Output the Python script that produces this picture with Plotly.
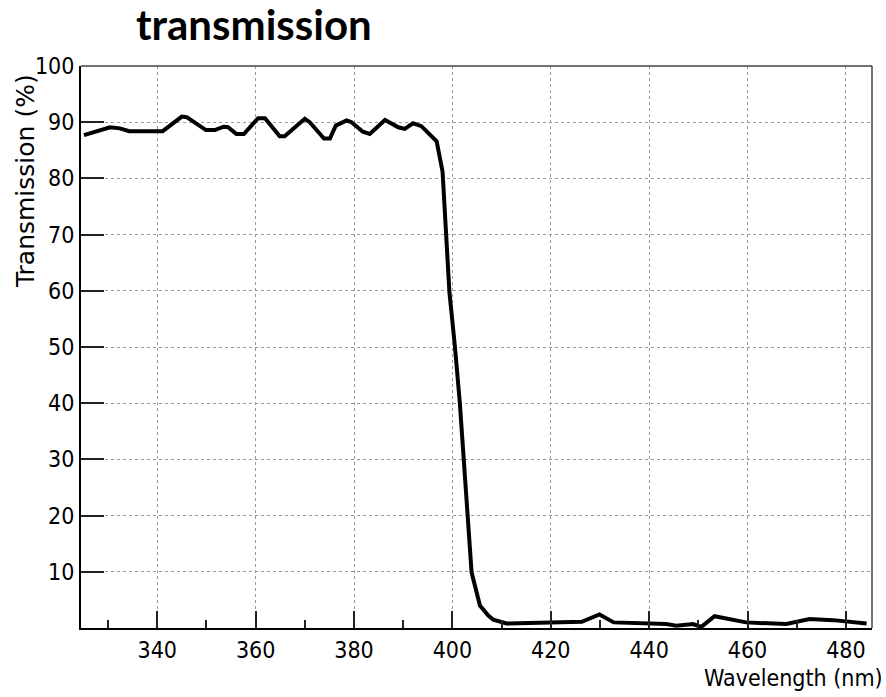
import plotly.graph_objects as go

# Filter transmission spectrum: wavelength (nm) vs transmission (%)
wavelength_nm = [
    325.1, 330.4, 332.4, 334.3, 341.1, 345.0, 346.0, 349.9, 351.7, 353.5,
    354.4, 356.1, 357.6, 360.5, 361.9, 364.9, 365.9, 370.0, 371.0, 373.9,
    375.1, 376.3, 378.5, 379.5, 381.8, 383.2, 386.3, 389.0, 390.3, 392.0,
    393.7, 396.8, 398.0, 398.7, 399.4, 400.5, 401.5, 402.3, 403.0, 403.9,
    405.6, 407.3, 408.3, 411.0, 426.3, 429.9, 432.8, 443.5, 445.5, 448.9,
    450.6, 453.3, 459.7, 467.9, 472.6, 477.4, 484.2,
]
transmission_pct = [
    87.7, 89.1, 88.9, 88.4, 88.4, 91.0, 90.9, 88.6, 88.6, 89.2,
    89.1, 87.9, 87.9, 90.7, 90.7, 87.5, 87.5, 90.6, 90.0, 87.1,
    87.1, 89.4, 90.3, 90.0, 88.3, 87.9, 90.4, 89.1, 88.8, 89.8,
    89.3, 86.6, 81.2, 69.8, 59.7, 50.2, 40.2, 30.1, 20.0, 9.9,
    4.0, 2.2, 1.5, 0.8, 1.1, 2.4, 1.0, 0.7, 0.4, 0.7,
    0.2, 2.1, 1.0, 0.7, 1.6, 1.4, 0.8,
]

x_ticks = [340, 360, 380, 400, 420, 440, 460, 480]
x_minor = [330, 350, 370, 390, 410, 430, 450, 470]
y_ticks = [10, 20, 30, 40, 50, 60, 70, 80, 90, 100]

narrow = "Liberation Sans Narrow, Arial Narrow, DejaVu Sans Condensed, sans-serif"

fig = go.Figure()
fig.add_trace(go.Scatter(
    x=wavelength_nm, y=transmission_pct, mode="lines",
    line=dict(color="black", width=4), showlegend=False,
))

fig.update_layout(
    width=886, height=697,
    margin=dict(l=81, r=14, t=66, b=69),
    paper_bgcolor="white", plot_bgcolor="white",
    xaxis=dict(
        range=[324.5, 485.3],
        tickmode="array", tickvals=x_ticks, ticktext=[str(v) for v in x_ticks],
        ticks="inside", ticklen=17, tickwidth=1.5, tickcolor="#222",
        minor=dict(tickmode="array", tickvals=x_minor,
                   ticks="inside", ticklen=8, tickwidth=1.5, tickcolor="#222",
                   showgrid=False),
        showline=True, linecolor="black", linewidth=2,
        showgrid=True, gridcolor="#9a9a9a", gridwidth=1, griddash="dot",
        zeroline=False,
        tickfont=dict(family=narrow, size=23, color="black"),
    ),
    yaxis=dict(
        range=[0, 100],
        tickmode="array", tickvals=y_ticks, ticktext=[str(v) for v in y_ticks],
        ticks="inside", ticklen=23, tickwidth=2, tickcolor="#222",
        showline=True, linecolor="black", linewidth=2,
        showgrid=True, gridcolor="#9a9a9a", gridwidth=1, griddash="dot",
        zeroline=False,
        tickfont=dict(family=narrow, size=23, color="black"),
    ),
)

# Frame on the top and right sides
fig.add_shape(type="line", xref="paper", yref="paper", x0=0, x1=1, y0=1, y1=1,
              line=dict(color="#444", width=1.5))
fig.add_shape(type="line", xref="paper", yref="paper", x0=1, x1=1, y0=0, y1=1,
              line=dict(color="#444", width=1.5))

fig.add_annotation(
    text="<b>transmission</b>", xref="paper", yref="paper",
    x=0.2187, y=1, xanchor="center", yanchor="bottom", yshift=16, borderpad=0,
    showarrow=False, font=dict(family="Lato, Open Sans, sans-serif", size=42, color="black"),
)
fig.add_annotation(
    text="Wavelength (nm)", xref="paper", yref="paper",
    x=1, y=0, xanchor="right", yanchor="top", yshift=-35, xshift=13,
    showarrow=False, font=dict(family=narrow, size=23, color="black"),
)
fig.add_annotation(
    text="Transmission (%)", xref="paper", yref="paper",
    x=-0.071, y=0.795, xanchor="center", yanchor="middle", textangle=-90,
    showarrow=False, font=dict(family="DejaVu Sans, sans-serif", size=25, color="black"),
)

fig.write_html("out.html")
